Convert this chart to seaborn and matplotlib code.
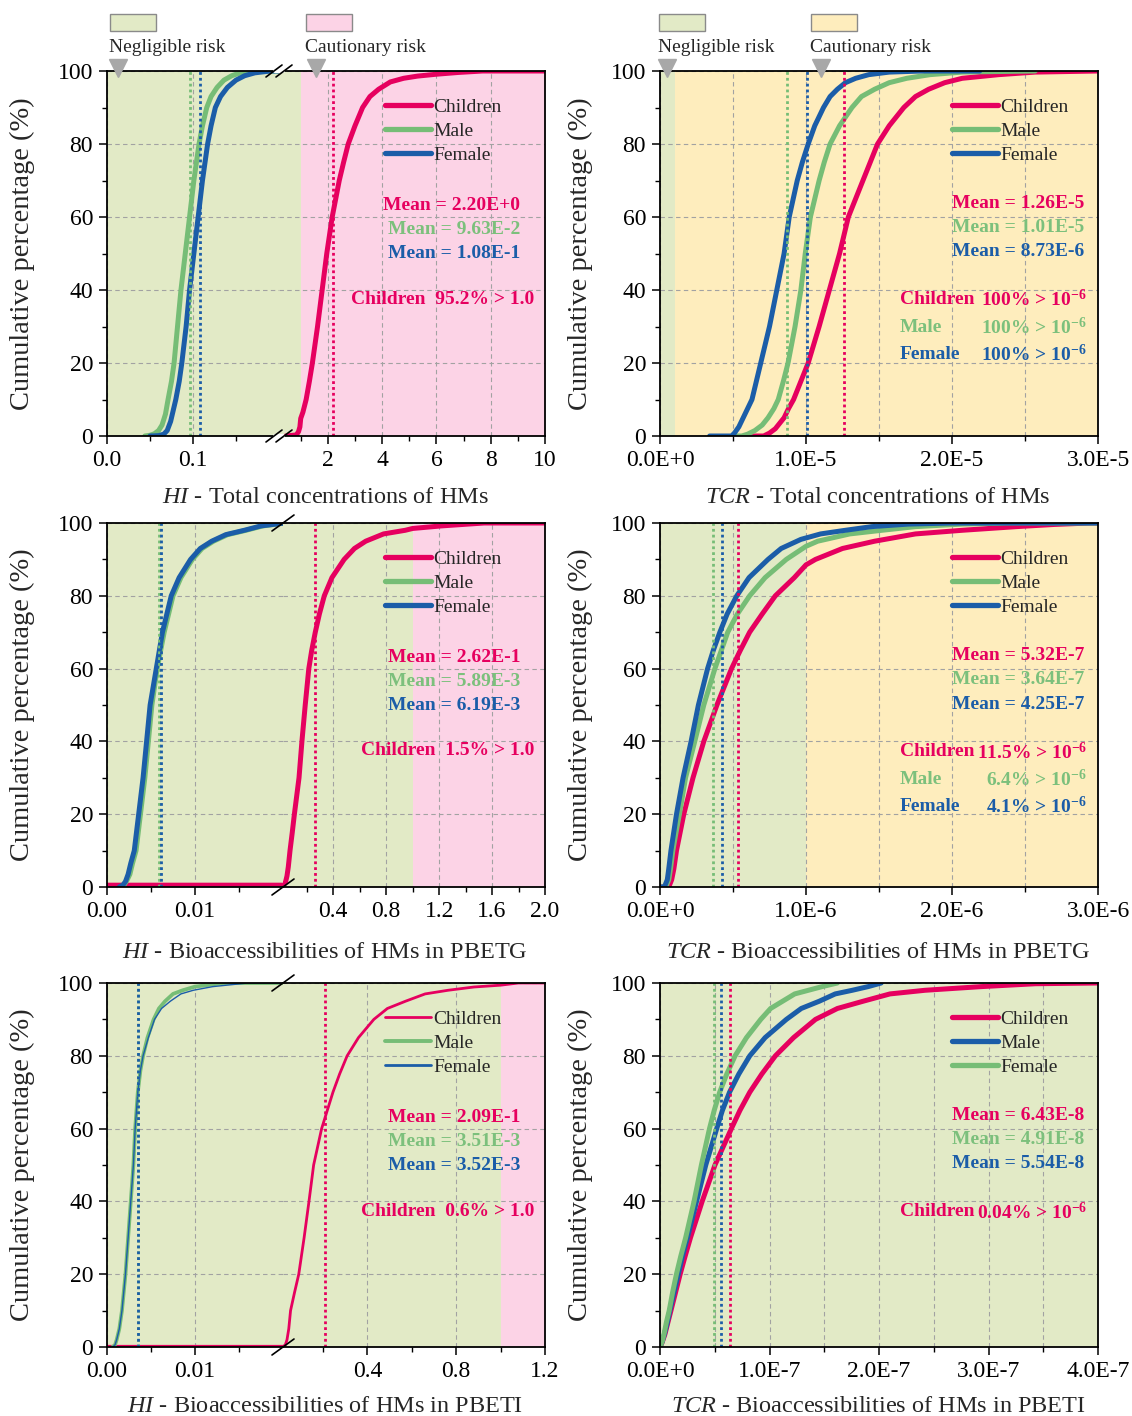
import numpy as np
import matplotlib
matplotlib.use("Agg")
import matplotlib.pyplot as plt
import seaborn as sns
from matplotlib.lines import Line2D
from matplotlib.patches import Rectangle
from matplotlib.ticker import FixedLocator

# ======================= DATA =======================
# --- HI : total concentrations of HMs (cumulative %, x in HI units)
hi_tot_child_x = [0.45, 0.84, 0.92, 0.97, 1.00, 1.08, 1.20, 1.32, 1.43, 1.62, 1.79, 1.96, 2.16, 2.42, 2.58, 2.75,
                  3.00, 3.28, 3.55, 3.87, 4.30, 4.79, 5.30, 5.97, 6.80, 7.70, 10.0]
hi_tot_child_y = [0, 0.3, 1.2, 2.5, 4.8, 6.5, 10, 15, 20, 30, 40, 50, 60, 70, 75, 80,
                  85, 90, 93, 95, 97, 98, 98.6, 99.1, 99.6, 100, 100]
hi_tot_male_x = [0.044, 0.050, 0.055, 0.060, 0.064, 0.068, 0.071, 0.075, 0.078, 0.082, 0.086, 0.091, 0.096,
                 0.101, 0.107, 0.111, 0.116, 0.121, 0.128, 0.136, 0.145, 0.155, 0.168, 0.20]
hi_tot_male_y = [0, 0.2, 0.6, 1.5, 3, 6, 10, 15, 20, 30, 40, 50, 60, 70, 80, 85, 90, 93, 95.5, 97.5, 98.7,
                 99.5, 100, 100]
hi_tot_female_x = [0.050, 0.060, 0.066, 0.070, 0.074, 0.077, 0.080, 0.084, 0.087, 0.092, 0.096, 0.101, 0.106,
                   0.111, 0.117, 0.121, 0.126, 0.132, 0.140, 0.150, 0.160, 0.172, 0.190, 0.20]
hi_tot_female_y = [0, 0.1, 0.5, 1.5, 4, 7, 10, 15, 20, 30, 40, 50, 60, 70, 80, 85, 90, 93, 95.5, 97.5, 98.7,
                   99.5, 100, 100]
hi_tot_means = [2.20, 9.63e-2, 1.08e-1]          # children, male, female

# --- HI : bioaccessibilities in PBETG
hi_g_child_x = [0.0, 0.02, 0.03, 0.04, 0.05, 0.06, 0.073, 0.09, 0.106, 0.141, 0.163, 0.188, 0.215, 0.237, 0.264,
                0.295, 0.332, 0.39, 0.482, 0.56, 0.645, 0.78, 0.944, 1.0, 1.216, 1.54, 2.0]
hi_g_child_y = [0.5, 0.5, 0.8, 1.5, 3, 5.5, 10, 15, 20, 30, 40, 50, 60, 65, 70,
                75, 80, 85, 90, 93, 95, 97, 98, 98.5, 99.2, 100, 100]
hi_g_male_x = [0.0015, 0.0019, 0.0022, 0.0026, 0.0029, 0.0033, 0.0038, 0.0043, 0.0047, 0.0051, 0.0057, 0.0065,
               0.0070, 0.0075, 0.0084, 0.0097, 0.0108, 0.0121, 0.0137, 0.0158, 0.0177, 0.0202]
hi_g_male_y = [0, 0.5, 1.5, 3.5, 6.5, 10, 20, 30, 40, 50, 60, 70, 75, 80, 85, 90, 93, 95, 96.8, 98, 99.2, 100]
hi_g_female_x = [0.0014, 0.0018, 0.0021, 0.0024, 0.0027, 0.0031, 0.0036, 0.0041, 0.0045, 0.0049, 0.0056, 0.0063,
                 0.0068, 0.0073, 0.0082, 0.0095, 0.0106, 0.0119, 0.0135, 0.0156, 0.0175, 0.0202]
hi_g_female_y = [0, 0.5, 1.5, 3.5, 6.5, 10, 20, 30, 40, 50, 60, 70, 75, 80, 85, 90, 93, 95, 96.8, 98, 99.2, 100]
hi_g_means = [2.62e-1, 5.89e-3, 6.19e-3]

# --- HI : bioaccessibilities in PBETI
hi_i_child_x = [0.0, 0.02, 0.03, 0.038, 0.046, 0.054, 0.072, 0.091, 0.115, 0.137, 0.158, 0.194, 0.245, 0.275,
                0.309, 0.36, 0.429, 0.49, 0.572, 0.66, 0.763, 0.88, 1.0, 1.08, 1.2]
hi_i_child_y = [0.2, 0.2, 0.5, 2, 5, 10, 15, 20, 30, 40, 50, 60, 70, 75,
                80, 85, 90, 93, 95, 97, 98, 98.9, 99.4, 100, 100]
hi_i_male_x = [0.0006, 0.0009, 0.0011, 0.0014, 0.0017, 0.0021, 0.0024, 0.0027, 0.0030, 0.0032, 0.0035, 0.0038,
               0.0041, 0.0046, 0.0053, 0.0059, 0.0066, 0.0075, 0.0086, 0.0100, 0.0132, 0.02]
hi_i_male_y = [0, 0.5, 2, 5, 10, 20, 30, 40, 50, 60, 70, 76, 80, 85, 90, 93, 95, 97, 98, 99, 100, 100]
hi_i_female_x = [0.0006, 0.0009, 0.0011, 0.0014, 0.0017, 0.0021, 0.0024, 0.0027, 0.0030, 0.0032, 0.0035, 0.0038,
                 0.0041, 0.0047, 0.0054, 0.0062, 0.0072, 0.0084, 0.0098, 0.0120, 0.0160, 0.02]
hi_i_female_y = [0, 0.5, 2, 5, 10, 20, 30, 40, 50, 60, 70, 76, 80, 85, 90, 93, 95, 97, 98, 99, 100, 100]
hi_i_means = [2.09e-1, 3.51e-3, 3.52e-3]

# --- TCR : total concentrations of HMs (x in units of 1E-5)
tcr_tot_child_x = [0.59, 0.71, 0.75, 0.79, 0.85, 0.88, 0.915, 0.965, 1.015, 1.09, 1.16, 1.23, 1.29, 1.39, 1.44,
                   1.49, 1.57, 1.67, 1.75, 1.84, 1.95, 2.07, 2.32, 2.57, 3.0]
tcr_tot_child_y = [0, 0, 0.8, 2, 5, 7.5, 10, 15, 20, 30, 40, 50, 60, 70, 75,
                   80, 85, 90, 93, 95, 96.8, 98, 99, 99.7, 100]
tcr_tot_male_x = [0.50, 0.56, 0.60, 0.65, 0.70, 0.74, 0.78, 0.81, 0.845, 0.877, 0.925, 0.965, 0.995, 1.03,
                  1.09, 1.125, 1.165, 1.23, 1.315, 1.38, 1.47, 1.57, 1.69, 1.85, 2.07, 2.57]
tcr_tot_male_y = [0, 0, 0.5, 1.5, 3, 5, 7.5, 10, 15, 20, 30, 40, 50, 60,
                  70, 75, 80, 85, 90, 93, 95, 96.8, 98, 99, 99.7, 100]
tcr_tot_female_x = [0.34, 0.49, 0.51, 0.54, 0.57, 0.60, 0.63, 0.66, 0.69, 0.75, 0.80, 0.85, 0.885, 0.94, 0.975,
                    1.015, 1.06, 1.12, 1.165, 1.215, 1.27, 1.34, 1.43, 1.57, 1.80, 2.19]
tcr_tot_female_y = [0, 0, 0.8, 2.5, 5, 7.5, 10, 15, 20, 30, 40, 50, 60, 70, 75,
                    80, 85, 90, 93, 95, 96.8, 98, 99, 99.7, 100, 100]
tcr_tot_means = [1.26e-5, 1.01e-5, 8.73e-6]
tcr_tot_line_pos = [1.26e-5, 8.73e-6, 1.01e-5]   # dotted lines as drawn: pink, green, blue

# --- TCR : bioaccessibilities in PBETG (x in units of 1E-6)
tcr_g_child_x = [0, 0.06, 0.08, 0.095, 0.113, 0.138, 0.163, 0.226, 0.30, 0.39, 0.49, 0.55, 0.614, 0.70, 0.79,
                 0.92, 1.0, 1.065, 1.25, 1.47, 1.75, 2.07, 2.44, 2.70, 2.94, 3.0]
tcr_g_child_y = [0, 0, 2, 5, 10, 15, 20, 30, 40, 50, 60, 65, 70, 75, 80,
                 85, 88.5, 90, 93, 95, 97, 98, 99, 99.6, 100, 100]
tcr_g_male_x = [0, 0.04, 0.06, 0.072, 0.088, 0.11, 0.133, 0.175, 0.238, 0.30, 0.376, 0.42, 0.464, 0.53, 0.614,
                0.72, 0.865, 1.0, 1.08, 1.30, 1.52, 1.75, 2.07, 2.40, 3.0]
tcr_g_male_y = [0, 0, 2, 5, 10, 15, 20, 30, 40, 50, 60, 65, 70, 75, 80,
                85, 90, 93.6, 95, 97, 98, 99, 99.7, 100, 100]
tcr_g_female_x = [0, 0.03, 0.05, 0.06, 0.075, 0.094, 0.113, 0.158, 0.213, 0.263, 0.326, 0.365, 0.41, 0.46, 0.526,
                  0.61, 0.74, 0.83, 0.965, 1.10, 1.27, 1.45, 1.70, 2.00, 3.0]
tcr_g_female_y = [0, 0, 2, 5, 10, 15, 20, 30, 40, 50, 60, 65, 70, 75, 80,
                  85, 90, 93, 95.5, 97, 98, 99, 99.7, 100, 100]
tcr_g_means = [5.32e-7, 3.64e-7, 4.25e-7]

# --- TCR : bioaccessibilities in PBETI (x in units of 1E-7)
tcr_i_child_x = [0, 0.02, 0.045, 0.07, 0.10, 0.142, 0.184, 0.23, 0.278, 0.385, 0.502, 0.652, 0.73, 0.82, 0.93,
                 1.054, 1.22, 1.42, 1.62, 1.856, 2.10, 2.42, 2.93, 3.43, 4.0]
tcr_i_child_y = [0, 1.3, 3.5, 6.5, 10, 15, 20, 25, 30, 40, 50, 60, 65, 70, 75,
                 80, 85, 90, 93, 95, 97, 98, 99, 99.8, 100]
tcr_i_blue_x = [0, 0.02, 0.04, 0.065, 0.09, 0.128, 0.167, 0.205, 0.25, 0.334, 0.418, 0.518, 0.57, 0.635, 0.72,
                0.82, 0.96, 1.154, 1.29, 1.455, 1.60, 1.756, 1.90, 2.02]
tcr_i_blue_y = [0, 1.5, 3.5, 6.5, 10, 15, 20, 25, 30, 40, 50, 60, 65, 70, 75,
                80, 85, 90, 93, 95, 97, 98, 99, 100]
tcr_i_green_x = [0, 0.02, 0.04, 0.06, 0.084, 0.115, 0.15, 0.19, 0.234, 0.311, 0.378, 0.452, 0.495, 0.545, 0.61,
                 0.686, 0.79, 0.92, 1.01, 1.12, 1.23, 1.355, 1.48, 1.62]
tcr_i_green_y = [0, 1.5, 4, 7, 10, 15, 20, 25, 30, 40, 50, 60, 65, 70, 75,
                 80, 85, 90, 93, 95, 97, 98, 99, 100]
tcr_i_means = [6.43e-8, 4.91e-8, 5.54e-8]

# text labels
mean_txt = {
    "hi_tot": ["Mean = 2.20E+0", "Mean = 9.63E-2", "Mean = 1.08E-1"],
    "hi_g": ["Mean = 2.62E-1", "Mean = 5.89E-3", "Mean = 6.19E-3"],
    "hi_i": ["Mean = 2.09E-1", "Mean = 3.51E-3", "Mean = 3.52E-3"],
    "tcr_tot": ["Mean = 1.26E-5", "Mean = 1.01E-5", "Mean = 8.73E-6"],
    "tcr_g": ["Mean = 5.32E-7", "Mean = 3.64E-7", "Mean = 4.25E-7"],
    "tcr_i": ["Mean = 6.43E-8", "Mean = 4.91E-8", "Mean = 5.54E-8"],
}
hi_exceed = ["Children  95.2% > 1.0", "Children  1.5% > 1.0", "Children  0.6% > 1.0"]
tcr_exceed_lab = [["Children", "Male", "Female"], ["Children", "Male", "Female"], ["Children"]]
tcr_exceed_val = [["100%", "100%", "100%"], ["11.5%", "6.4%", "4.1%"], ["0.04%"]]
legend_labels = ["Children", "Male", "Female"]
hi_titles = ["Total concentrations of HMs", "Bioaccessibilities of HMs in PBETG", "Bioaccessibilities of HMs in PBETI"]
ylab = "Cumulative percentage (%)"

# ======================= STYLE =======================
sns.set_theme(style="ticks")
plt.rcParams["font.family"] = ["Liberation Serif", "DejaVu Serif"]
plt.rcParams["mathtext.fontset"] = "custom"
plt.rcParams["mathtext.rm"] = "Liberation Serif"
plt.rcParams["mathtext.it"] = "Liberation Serif:italic"
plt.rcParams["mathtext.bf"] = "Liberation Serif:bold"

C_CH = "#E6005F"
C_M = "#76BD76"
C_F = "#1B5DA8"
T_M = "#7CC07C"
BG_G = "#E2EAC6"
BG_P = "#FCD3E6"
BG_Y = "#FEEDBD"
GRID = "#A2A2A2"

W, H = 1132, 1416
fig = plt.figure(figsize=(W / 100, H / 100), dpi=100)


def fx(p):
    return p / W


def fy(p):
    return 1 - p / H


def fbox(x0, x1, ytop, ybot):
    return [x0 / W, 1 - ybot / H, (x1 - x0) / W, (ybot - ytop) / H]


ROWS = [(71, 436), (523, 887), (983, 1347)]
TITLE_OFF = [62, 65, 59]
LX0, LX1 = 107, 545
RX0, RX1 = 660, 1098
TICK_FS = 17


def base_style(ax):
    ax.set_ylim(0, 100)
    ax.set_xlabel("")
    ax.set_ylabel("")
    for s in ax.spines.values():
        s.set_color("black")
        s.set_linewidth(1.3)
        s.set_zorder(6)
    ax.tick_params(axis="both", which="major", direction="out", length=6, width=1.1,
                   color="black", labelcolor="black", labelsize=TICK_FS, pad=4)
    ax.tick_params(axis="both", which="minor", direction="out", length=3.5, width=1.0, color="black")
    ax.set_yticks([0, 20, 40, 60, 80, 100])
    ax.yaxis.set_minor_locator(FixedLocator([10, 30, 50, 70, 90]))
    ax.set_axisbelow(True)
    ax.yaxis.grid(True, which="major", color=GRID, ls=(0, (4, 3)), lw=0.8)


def curve(ax, x, y, c, lw, z):
    sns.lineplot(x=np.asarray(x, float), y=np.asarray(y, float), ax=ax, color=c, lw=lw,
                 sort=False, estimator=None, zorder=z, legend=False)
    ax.lines[-1].set_solid_joinstyle("round")
    ax.set_xlabel("")
    ax.set_ylabel("")


def meanline(ax, v, c):
    ax.axvline(v, color=c, ls=(0, (1, 1.1)), lw=2.0, zorder=4)


def brk(xc, yc, double):
    kw = dict(transform=fig.transFigure, color="black", lw=1.2, zorder=10)
    if double:
        fig.add_artist(Line2D([fx(xc - 4), fx(xc + 4)], [fy(yc), fy(yc)], transform=fig.transFigure,
                              color="white", lw=3, zorder=9))
        for dx in (-5, 5):
            fig.add_artist(Line2D([fx(xc + dx - 8), fx(xc + dx + 8)], [fy(yc + 6), fy(yc - 6)], **kw))
    else:
        fig.add_artist(Line2D([fx(xc - 11), fx(xc + 11)], [fy(yc + 8), fy(yc - 8)], **kw))


def legend(ax, colors, lws, x_px, top_px):
    handles = [Line2D([0], [0], color=c, lw=w, solid_capstyle="round") for c, w in zip(colors, lws)]
    ax.legend(handles, legend_labels, loc="upper left", bbox_to_anchor=(fx(x_px), fy(top_px)),
              bbox_transform=fig.transFigure, frameon=False, fontsize=14, handlelength=2.35,
              handletextpad=0.15, labelspacing=0.34, borderpad=0, borderaxespad=0)


# ======================= LEFT COLUMN (HI, broken x axis) =======================
hi_panels = [
    dict(split=279, llim=(0, 0.2), rlim=(0.2, 10), pink=1.0,
         ch=(hi_tot_child_x, hi_tot_child_y), m=(hi_tot_male_x, hi_tot_male_y), f=(hi_tot_female_x, hi_tot_female_y),
         means=hi_tot_means, lt=[0.0, 0.1], ltl=["0.0", "0.1"], lm=[0.05, 0.15],
         rt=[2, 4, 6, 8, 10], rtl=["2", "4", "6", "8", "10"], rm=[1, 3, 5, 7, 9],
         lw=(3.6, 3.6, 3.6), leglw=(3.8, 3.8, 3.8), double=True, key="hi_tot"),
    dict(split=283, llim=(0, 0.02), rlim=(0.02, 2.0), pink=1.0,
         ch=(hi_g_child_x, hi_g_child_y), m=(hi_g_male_x, hi_g_male_y), f=(hi_g_female_x, hi_g_female_y),
         means=hi_g_means, lt=[0.0, 0.01], ltl=["0.00", "0.01"], lm=[0.005, 0.015],
         rt=[0.4, 0.8, 1.2, 1.6, 2.0], rtl=["0.4", "0.8", "1.2", "1.6", "2.0"], rm=[0.2, 0.6, 1.0, 1.4, 1.8],
         lw=(3.6, 3.6, 3.6), leglw=(3.8, 3.8, 3.8), double=False, key="hi_g"),
    dict(split=283, llim=(0, 0.02), rlim=(0.02, 1.2), pink=1.0,
         ch=(hi_i_child_x, hi_i_child_y), m=(hi_i_male_x, hi_i_male_y), f=(hi_i_female_x, hi_i_female_y),
         means=hi_i_means, lt=[0.0, 0.01], ltl=["0.00", "0.01"], lm=[0.005, 0.015],
         rt=[0.4, 0.8, 1.2], rtl=["0.4", "0.8", "1.2"], rm=[0.2, 0.6, 1.0],
         lw=(2.0, 2.7, 1.0), leglw=(2.0, 2.8, 2.0), double=False, key="hi_i"),
]

for r, P in enumerate(hi_panels):
    top, bot = ROWS[r]
    axL = fig.add_axes(fbox(LX0, P["split"], top, bot))
    axR = fig.add_axes(fbox(P["split"], LX1, top, bot))
    for ax in (axL, axR):
        ax.set_facecolor(BG_G)
        base_style(ax)
    axR.axvspan(P["pink"], P["rlim"][1], color=BG_P, lw=0, zorder=0)
    # children spans both segments; male/female lie entirely in the left segment
    for ax in (axL, axR):
        curve(ax, *P["ch"], C_CH, P["lw"][0], 3)
    curve(axL, *P["m"], C_M, P["lw"][1], 3.1)
    curve(axL, *P["f"], C_F, P["lw"][2], 3.2)
    for v, c in zip(P["means"], [C_CH, C_M, C_F]):
        meanline(axL if v <= P["llim"][1] else axR, v, c)
    axL.set_xlim(P["llim"])
    axR.set_xlim(P["rlim"])
    axL.set_xticks(P["lt"])
    axL.set_xticklabels(P["ltl"])
    axL.xaxis.set_minor_locator(FixedLocator(P["lm"]))
    axR.set_xticks(P["rt"])
    axR.set_xticklabels(P["rtl"])
    axR.xaxis.set_minor_locator(FixedLocator(P["rm"]))
    for ax in (axL, axR):
        ax.xaxis.grid(True, which="major", color=GRID, ls=(0, (4, 3)), lw=0.8)
    axL.spines["right"].set_visible(False)
    axR.spines["left"].set_visible(False)
    axR.tick_params(axis="y", which="both", left=False, labelleft=False)
    axR.set_ylim(0, 100)
    legend(axR, [C_CH, C_M, C_F], P["leglw"], 385, top + 27)
    brk(P["split"], top, P["double"])
    brk(P["split"], bot, P["double"])
    # texts
    for i, (t, c) in enumerate(zip(mean_txt[P["key"]], [C_CH, T_M, C_F])):
        fig.text(fx(520), fy(top + 134 + 24.5 * i), t, color=c, fontsize=14, fontweight="bold",
                 ha="right", va="center")
    fig.text(fx(534), fy(top + 228), hi_exceed[r], color=C_CH, fontsize=14, fontweight="bold",
             ha="right", va="center")
    fig.text(fx(325), fy(bot + TITLE_OFF[r]), r"$\mathit{HI}$ - " + hi_titles[r], fontsize=17.5,
             ha="center", va="center")
    fig.text(fx(22), fy((top + bot) / 2), ylab, rotation=90, fontsize=20.5, ha="center", va="center")

# ======================= RIGHT COLUMN (TCR) =======================
tcr_panels = [
    dict(scale=1e-5, xmax=3.0, yellow=0.1, key="tcr_tot",
         curves=[(tcr_tot_child_x, tcr_tot_child_y, C_CH), (tcr_tot_male_x, tcr_tot_male_y, C_M),
                 (tcr_tot_female_x, tcr_tot_female_y, C_F)],
         lines=list(zip(tcr_tot_line_pos, [C_CH, C_M, C_F])),
         leg=[C_CH, C_M, C_F], title="Total concentrations of HMs", suffix="E-5"),
    dict(scale=1e-6, xmax=3.0, yellow=1.0, key="tcr_g",
         curves=[(tcr_g_child_x, tcr_g_child_y, C_CH), (tcr_g_male_x, tcr_g_male_y, C_M),
                 (tcr_g_female_x, tcr_g_female_y, C_F)],
         lines=list(zip(tcr_g_means, [C_CH, C_M, C_F])),
         leg=[C_CH, C_M, C_F], title="Bioaccessibilities of HMs in PBETG", suffix="E-6"),
    dict(scale=1e-7, xmax=4.0, yellow=None, key="tcr_i",
         curves=[(tcr_i_child_x, tcr_i_child_y, C_CH), (tcr_i_blue_x, tcr_i_blue_y, C_F),
                 (tcr_i_green_x, tcr_i_green_y, C_M)],
         lines=list(zip(tcr_i_means, [C_CH, C_M, C_F])),
         leg=[C_CH, C_F, C_M], title="Bioaccessibilities of HMs in PBETI", suffix="E-7"),
]

for r, P in enumerate(tcr_panels):
    top, bot = ROWS[r]
    ax = fig.add_axes(fbox(RX0, RX1, top, bot))
    ax.set_facecolor(BG_G)
    base_style(ax)
    s = P["scale"]
    if P["yellow"] is not None:
        ax.axvspan(P["yellow"] * s, P["xmax"] * s, color=BG_Y, lw=0, zorder=0)
    for z, (x, y, c) in enumerate(P["curves"]):
        curve(ax, np.asarray(x) * s, y, c, 3.6, 3 + 0.1 * z)
    for v, c in P["lines"]:
        meanline(ax, v, c)
    ax.set_xlim(0, P["xmax"] * s)
    n = int(round(P["xmax"]))
    ticks = [k * s for k in range(n + 1)]
    ax.set_xticks(ticks)
    ax.set_xticklabels(["0.0E+0"] + [f"{k}.0{P['suffix']}" for k in range(1, n + 1)])
    ax.xaxis.set_minor_locator(FixedLocator([(k + 0.5) * s for k in range(n)]))
    ax.xaxis.grid(True, which="both", color=GRID, ls=(0, (4, 3)), lw=0.8)
    legend(ax, P["leg"], (3.8, 3.8, 3.8), 952, top + 27)
    for i, (t, c) in enumerate(zip(mean_txt[P["key"]], [C_CH, T_M, C_F])):
        fig.text(fx(1084), fy(top + 132 + 24.5 * i), t, color=c, fontsize=14, fontweight="bold",
                 ha="right", va="center")
    for i, (lab, val) in enumerate(zip(tcr_exceed_lab[r], tcr_exceed_val[r])):
        c = [C_CH, T_M, C_F][i]
        yy = fy(top + 227 + 27.2 * i)
        fig.text(fx(900), yy, lab, color=c, fontsize=14, fontweight="bold", ha="left", va="center_baseline")
        fig.text(fx(1087), yy, val + r" > 10$^{\mathbf{-6}}$", color=c, fontsize=14, fontweight="bold",
                 ha="right", va="center_baseline")
    fig.text(fx(878), fy(bot + TITLE_OFF[r]), r"$\mathit{TCR}$ - " + P["title"], fontsize=17.5,
             ha="center", va="center")
    fig.text(fx(580), fy((top + bot) / 2), ylab, rotation=90, fontsize=20.5, ha="center", va="center")

# ======================= TOP RISK KEY =======================
for x0, col, lab in [(110, BG_G, "Negligible risk"), (306, BG_P, "Cautionary risk"),
                     (659, BG_G, "Negligible risk"), (811, BG_Y, "Cautionary risk")]:
    fig.add_artist(Rectangle((fx(x0), fy(31)), 46 / W, 17 / H, transform=fig.transFigure,
                             facecolor=col, edgecolor="#8A8A8A", lw=1.0))
    fig.text(fx(x0 - 1), fy(48), lab, fontsize=14, ha="left", va="center")
for xm in (118, 316, 667, 821):
    fig.add_artist(Line2D([fx(xm)], [fy(68)], marker="v", markersize=13, color="#A8A8A8",
                          markeredgecolor="#A8A8A8", transform=fig.transFigure, zorder=10))

fig.savefig("out.png", dpi=100)
